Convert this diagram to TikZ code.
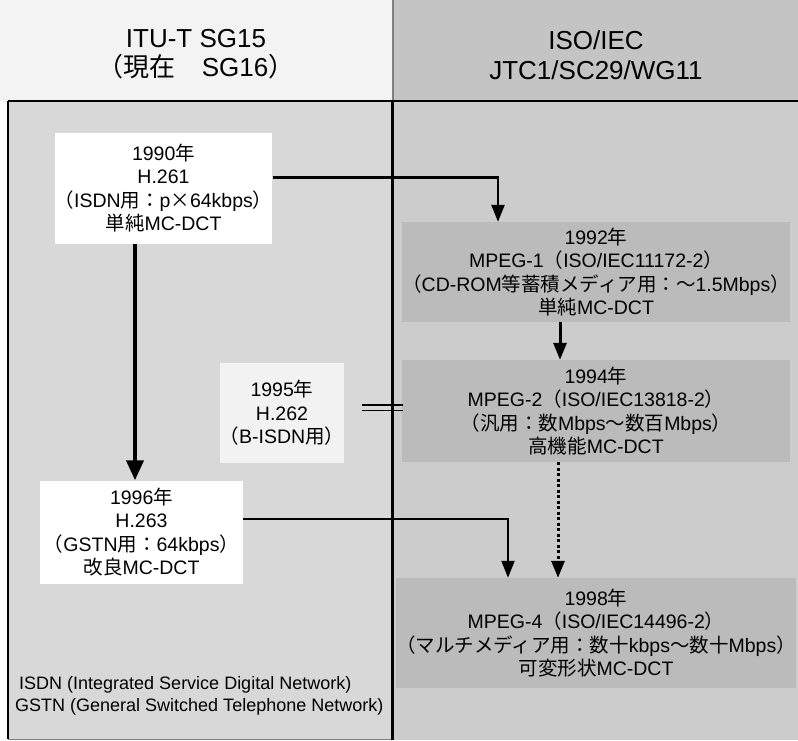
\documentclass[tikz,border=0pt]{standalone}
\usepackage{fontspec}
\setmainfont{Liberation Sans}
\newfontfamily\jpfont{Noto Sans CJK JP}
\newcommand{\JP}[1]{{\jpfont #1}}
\usetikzlibrary{arrows.meta}
\definecolor{hdrleft}{HTML}{F3F3F3}
\definecolor{hdrright}{HTML}{C4C4C4}
\definecolor{panelleft}{HTML}{D8D8D8}
\definecolor{panelright}{HTML}{CCCCCC}
\definecolor{boxgray}{HTML}{BBBBBB}
\definecolor{patchlight}{HTML}{F2F2F2}
\tikzset{
  patch/.style={inner sep=0pt, align=center, font=\fontsize{19.5}{23.5}\selectfont, anchor=center},
  whitepatch/.style={patch, fill=white},
  graypatch/.style={patch, fill=boxgray, minimum width=388pt},
  hdr/.style={align=center, font=\fontsize{26}{29.5}\selectfont},
  note/.style={align=left, font=\fontsize{18}{22}\selectfont, anchor=west, inner sep=0pt},
  conn/.style={line width=2.5pt, -{Triangle[width=13pt,length=17pt]}},
  bigconn/.style={line width=4pt, -{Triangle[width=17pt,length=20pt]}},
  dotconn/.style={line width=3pt, dash pattern=on 3pt off 2.5pt, -{Triangle[width=13pt,length=17pt]}},
  frameline/.style={line width=2pt},
}
\begin{document}
\begin{tikzpicture}[x=1pt,y=-1pt]
\useasboundingbox (0,0) rectangle (798,740);
\fill[white] (0,0) rectangle (798,740);
% backgrounds
\fill[hdrleft] (0,0) rectangle (393,101);
\fill[hdrright] (393,0) rectangle (798,101);
\fill[panelleft] (8,101) rectangle (393,739);
\fill[panelright] (393,101) rectangle (798,740);

% headers
\node[hdr] (hL) at (196,54) {ITU-T SG15\\\JP{（現在　}SG16\JP{）}};
\node[hdr] (hR) at (596,55) {ISO/IEC\\JTC1/SC29/WG11};

% frame lines
\draw[line width=1.5pt, gray] (393,0) -- (393,101);
\draw[frameline] (8,101) -- (798,101);
\draw[frameline] (8,101) -- (8,739);
\draw[line width=0.8pt, gray] (8,739) -- (393,739);
\draw[line width=3pt] (392,101) -- (392,740);

% left column nodes
\node[whitepatch, minimum width=217pt, minimum height=111pt] (n1990) at (163.5,188)
  {1990\JP{年}\\H.261\\\JP{（}ISDN\JP{用：}p\JP{×}64kbps\JP{）}\\\JP{単純}MC-DCT};
\node[patch, fill=patchlight, minimum width=124pt, minimum height=100pt] (n1995) at (282,413)
  {1995\JP{年}\\H.262\\\JP{（}B-ISDN\JP{用）}};
\node[whitepatch, minimum width=203pt, minimum height=103pt] (n1996) at (141.5,532)
  {1996\JP{年}\\H.263\\\JP{（}GSTN\JP{用：}64kbps\JP{）}\\\JP{改良}MC-DCT};

% right column nodes
\node[graypatch, minimum height=100pt] (n1992) at (596,272)
  {1992\JP{年}\\MPEG-1\JP{（}ISO/IEC11172-2\JP{）}\\\JP{（}CD-ROM\JP{等蓄積メディア用：～}1.5Mbps\JP{）}\\\JP{単純}MC-DCT};
\node[graypatch, minimum height=102pt] (n1994) at (596,411)
  {1994\JP{年}\\MPEG-2\JP{（}ISO/IEC13818-2\JP{）}\\\JP{（汎用：数}Mbps\JP{～数百}Mbps\JP{）}\\\JP{高機能}MC-DCT};
\node[graypatch, minimum height=110pt] (n1998) at (596,633)
  {1998\JP{年}\\MPEG-4\JP{（}ISO/IEC14496-2\JP{）}\\\JP{（マルチメディア用：数十}kbps\JP{～数十}Mbps\JP{）}\\\JP{可変形状}MC-DCT};

% footnote
\node[note] (fn) at (15,696) {\hspace*{4pt}ISDN (Integrated Service Digital Network)\\GSTN (General Switched Telephone Network)};

% connectors
\draw[conn] ([yshift=10.5pt]n1990.east) -| ([xshift=-98pt]n1992.north);
\draw[bigconn] (n1990.south -| 135,0) -- (n1996.north -| 135,0);
\draw[conn, line width=3pt] ([xshift=-36pt]n1992.south) -- ([xshift=-36pt]n1994.north);
\draw[dotconn] ([xshift=-38pt]n1994.south) -- ([xshift=-38pt]n1998.north);
\draw[conn, line width=2pt] ([yshift=13pt]n1996.east) -| ([xshift=-88pt]n1998.north);

% double bar: 1995 is not carried into the ISO/IEC line
\coordinate (dblA) at (362,405);
\coordinate (dblB) at (403,405);
\coordinate (dblC) at (362,410.5);
\coordinate (dblD) at (403,410.5);
\draw[line width=1.8pt] (dblA) -- (dblB);
\draw[line width=1.8pt] (dblC) -- (dblD);
\end{tikzpicture}
\end{document}
